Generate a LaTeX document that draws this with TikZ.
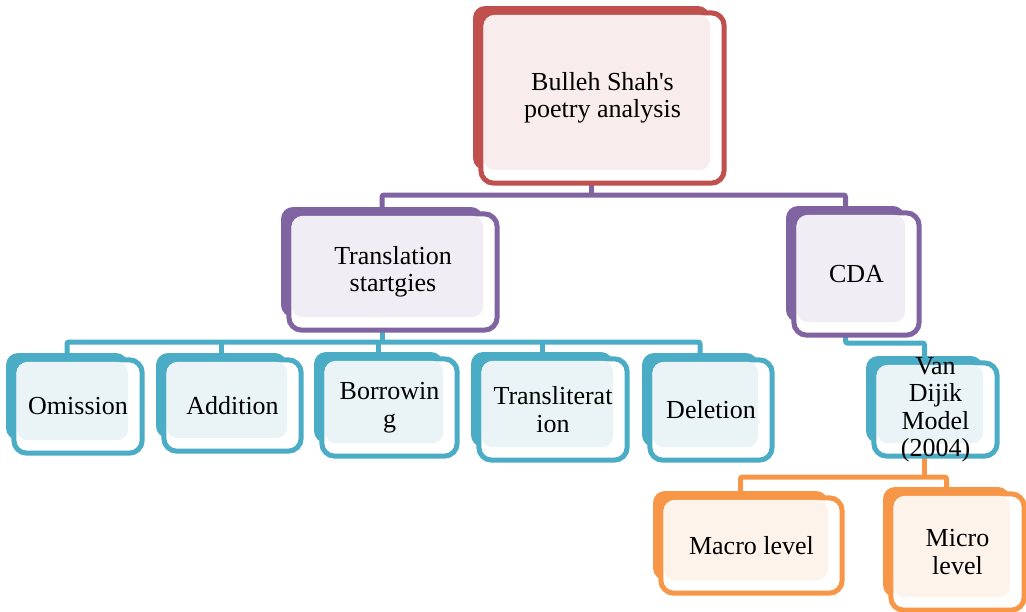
\documentclass[tikz,border=0pt]{standalone}
\usepackage{fontspec}
\setmainfont{Liberation Serif}
\usetikzlibrary{calc,fit,backgrounds}

\definecolor{rd}{HTML}{C0504D}
\definecolor{rdlight}{HTML}{F8ECEC}
\definecolor{pu}{HTML}{8064A2}
\definecolor{pulight}{HTML}{F0EEF4}
\definecolor{cy}{HTML}{4BACC6}
\definecolor{cylight}{HTML}{EAF4F7}
\definecolor{og}{HTML}{F79646}
\definecolor{oglight}{HTML}{FEF3EA}

\tikzset{
  tileback/.style={inner sep=0pt, rounded corners=12pt},
  tileframe/.style={line width=5pt, fill=white, rounded corners=13pt},
  tiletext/.style={align=center, inner sep=0pt, font=\fontsize{26}{27.5}\selectfont},
  link/.style={line width=5pt, rounded corners=2pt},
}

% name, x1, y1, x2, y2, colour, text
\newcommand{\tile}[7]{%
  \node[tileback, fill=#6, fit={(#2,#3) (#4,#5)}] (#1) {};
  \draw[tileframe, draw=#6] ([shift={(8,7)}]#1.north west) rectangle ([shift={(14,13)}]#1.south east);
  \fill[#6light, rounded corners=11pt] ([shift={(11,9)}]#1.north west) rectangle (#1.south east);
  \node[tiletext] (#1-text) at ($([shift={(8,7)}]#1.north west)!0.5!([shift={(14,13)}]#1.south east)$) {#7};
}

\begin{document}
\begin{tikzpicture}[x=1pt,y=-1pt]
\useasboundingbox (0,0) rectangle (1026,611);
% top
\tile{root}{473}{6}{710}{170}{rd}{Bulleh Shah\textquotesingle s\\poetry analysis}
% second level
\tile{transl}{281}{207}{483}{317}{pu}{Translation\\startgies}
\tile{cda}{786}{206}{905}{322}{pu}{CDA}
% strategies and model
\tile{omission}{6}{353}{128}{440}{cy}{Omission}
\tile{addition}{156}{353}{287}{438}{cy}{Addition}
\tile{borrowing}{314}{352}{443}{443}{cy}{Borrowin\\g}
\tile{translit}{471}{352}{613}{447}{cy}{Transliterat\\ion}
\tile{deletion}{642}{353}{758}{447}{cy}{Deletion}
\tile{vandijk}{866}{356}{983}{443}{cy}{Van\\Dijik\\Model\\(2004)}
% levels
\tile{macro}{653}{491}{828}{580}{og}{Macro level}
\tile{micro}{883}{487}{1010}{597}{og}{Micro\\level}

% connectors
\coordinate (bar1) at (0,195);
\coordinate (bar2) at (0,342);
\coordinate (bar3) at (0,343);
\coordinate (bar4) at (0,477);
\begin{scope}[on background layer]
\draw[link, pu] (root.south) -- (root.south |- bar1);
\draw[link, pu] (transl.north) -- (transl.north |- bar1) -| (cda.north);
\draw[link, cy] (transl.south) -- (transl.south |- bar2);
\draw[link, cy] (omission.north) -- (omission.north |- bar2) -| (deletion.north);
\foreach \n in {addition,borrowing,translit}
  \draw[link, cy] (\n.north) -- (\n.north |- bar2);
\draw[link, cy] (cda.south) -- (cda.south |- bar3) -| (vandijk.north);
\draw[link, og] (vandijk.south) -- (vandijk.south |- bar4);
\draw[link, og] (macro.north) -- (macro.north |- bar4) -| (micro.north);
\end{scope}
\end{tikzpicture}
\end{document}
